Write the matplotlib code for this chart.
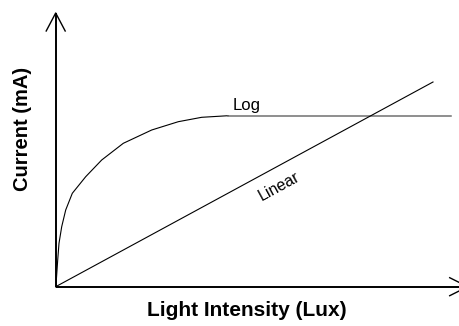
import matplotlib
matplotlib.use('Agg')
import matplotlib.pyplot as plt

plt.rcParams['font.family'] = ['Liberation Sans', 'DejaVu Sans']

# Schematic response curves, coordinates in pixels measured from the origin (y up)
log_x = [0, 0.3, 2, 3.3, 6, 10, 16.6, 30, 46, 67.6, 96, 122.6, 146, 172.6]
log_y = [0, 1.7, 26.7, 43.4, 60, 76.7, 93.4, 110, 126.7, 143.4, 156.7, 165, 169.4, 171]
flat_x = [172.6, 395]
flat_y = [171, 171]
lin_x = [0, 377.3]
lin_y = [0, 204.7]

W, H = 459, 326
ox, oy = 55.7, 286.7  # origin position in the image

fig = plt.figure(figsize=(W / 100, H / 100), dpi=100)
ax = fig.add_axes([0, 0, 1, 1])
ax.set_xlim(-ox, W - ox)
ax.set_ylim(-(H - oy), oy)
ax.axis('off')

# axes with open arrowheads
ax.plot([0, 0], [0, 273.7], color='black', lw=1.4, solid_capstyle='butt')
ax.plot([-9.5, 0, 9.5], [255.7, 273.7, 255.7], color='black', lw=1.0)
ax.plot([0, 412], [0, 0], color='black', lw=1.4, solid_capstyle='butt')
ax.plot([394, 412, 394], [9, 0, -9], color='black', lw=1.0)

# curves
ax.plot(log_x, log_y, color='black', lw=0.8)
ax.plot(flat_x, flat_y, color='#707070', lw=1.1)
ax.plot(lin_x, lin_y, color='black', lw=0.8)

ax.text(177, 174, 'Log', fontsize=12, ha='left', va='bottom')
ax.text(223, 100, 'Linear', fontsize=11.5, rotation=28.5, rotation_mode='anchor',
        ha='center', va='center')

ax.text(246.5 - ox, oy - 311, 'Light Intensity (Lux)', fontsize=15,
        fontweight='bold', ha='center', va='center')
ax.text(22 - ox, oy - 129, 'Current (mA)', fontsize=14.5, fontweight='bold',
        rotation=90, ha='center', va='center')

fig.savefig('out.png', dpi=100)
